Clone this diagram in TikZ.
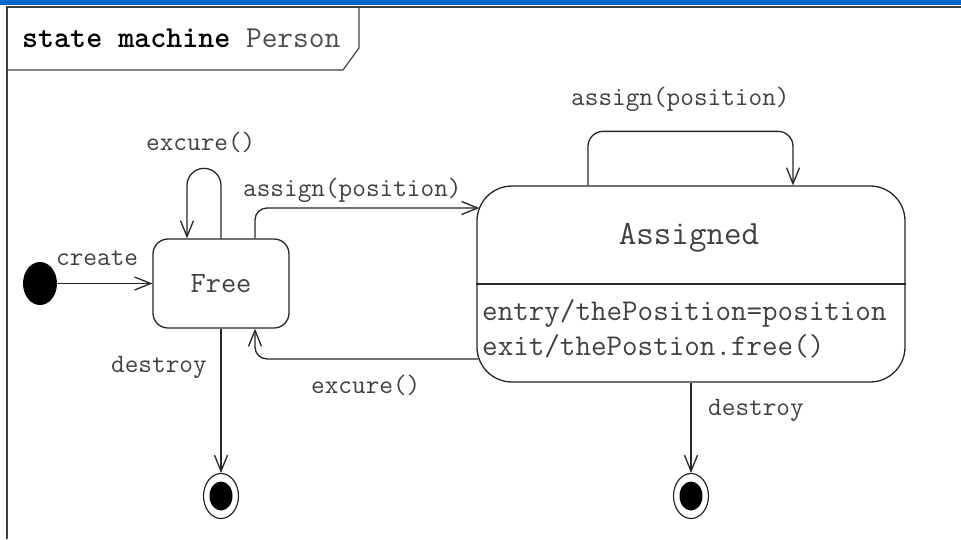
\documentclass[tikz,border=0pt]{standalone}
\usetikzlibrary{shapes.geometric,arrows.meta}
\definecolor{barblue}{HTML}{0066CC}

\begin{document}
\begin{tikzpicture}[x=1pt, y=-1pt, auto]
        % Define block styles
        \tikzstyle{state} = [rectangle, draw=black!85, line width=1.3pt, inner sep=0pt, text=black!75]
        \tikzstyle{trans} = [draw=black!85, line width=1.3pt, -{Straight Barb[length=16pt, width=13pt]}]
        \tikzstyle{lbl} = [anchor=base west, inner sep=0pt, text=black!75, font=\ttfamily\fontsize{26.5}{30}\selectfont]
        \tikzstyle{initial} = [ellipse, fill=black, minimum width=34pt, minimum height=43pt, inner sep=0pt]
        \tikzstyle{final} = [ellipse, draw=black!85, line width=1.2pt, minimum width=35pt, minimum height=45pt, inner sep=0pt,
          path picture={\fill (path picture bounding box.center) ellipse [x radius=11.5pt, y radius=14.5pt];}]

        \useasboundingbox (0,0) rectangle (961,539);

        % Frame
        \fill[barblue] (0,0) rectangle (961,5);
        \draw[black!75, line width=1.5pt] (961,7) -- (7,7) -- (7,539);
        \draw[black!75, line width=1.2pt] (7,70) -- (343,70) -- (359,48) -- (359,7);
        \node [anchor=base west, inner sep=0pt, font=\ttfamily\fontsize{30.5}{34}\selectfont] (title) at (22,47)
          {\textbf{state machine} \textcolor{black!70}{Person}};

        % Nodes
        \node [initial] (init) at (40,283.5) {};
        \node [state, rounded corners=15pt, minimum width=136pt, minimum height=89pt,
          font=\ttfamily\fontsize{29.5}{34}\selectfont] (free) at (221,283.5) {Free};
        \node [state, rounded corners=35pt, minimum width=428pt, minimum height=196pt] (assigned) at (691,284) {};
        \draw [black!85, line width=1.3pt] (assigned.west) -- (assigned.east);
        \node [anchor=base, inner sep=0pt, text=black!75, font=\ttfamily\fontsize{34}{38}\selectfont] (asgname) at (689,244) {Assigned};
        \node [anchor=base west, inner sep=0pt, text=black!75, font=\ttfamily\fontsize{30.2}{34}\selectfont] (entry) at (482,320) {entry/thePosition=position};
        \node [anchor=base west, inner sep=0pt, text=black!75, font=\ttfamily\fontsize{30.2}{34}\selectfont] (exit) at (482,355) {exit/thePostion.free()};
        \node [final] (fin1) at (221,496) {};
        \node [final] (fin2) at (691,496) {};

        % Arrows
        \path [trans] (init) -- (free);
        \path [trans, rounded corners=17pt] (free.north) -- ++(0,-70) -- ++(-34,0) -- ([xshift=-34pt]free.north);
        \path [trans, rounded corners=12pt] ([xshift=34pt]free.north) |- ([shift={(3pt,76pt)}]assigned.west);
        \path [trans, rounded corners=15pt] ([xshift=-103pt]assigned.north) -- ++(0,-54) -| ([xshift=102pt]assigned.north);
        \path [trans, rounded corners=12pt] ([shift={(2pt,-75pt)}]assigned.west) -| ([xshift=34pt]free.south);
        \path [trans] (free) -- (fin1);
        \path [trans] (assigned) -- (fin2);

        % Text labels
        \node [lbl] (create) at (56,265) {create};
        \node [lbl] (loopfree) at (146,150) {excure()};
        \node [lbl] (assign1) at (243,196) {assign(position)};
        \node [lbl] (assign2) at (571,105) {assign(position)};
        \node [lbl] (destroy1) at (111,372) {destroy};
        \node [lbl] (excure) at (311,393) {excure()};
        \node [lbl] (destroy2) at (708,415) {destroy};

    \end{tikzpicture}
\end{document}
